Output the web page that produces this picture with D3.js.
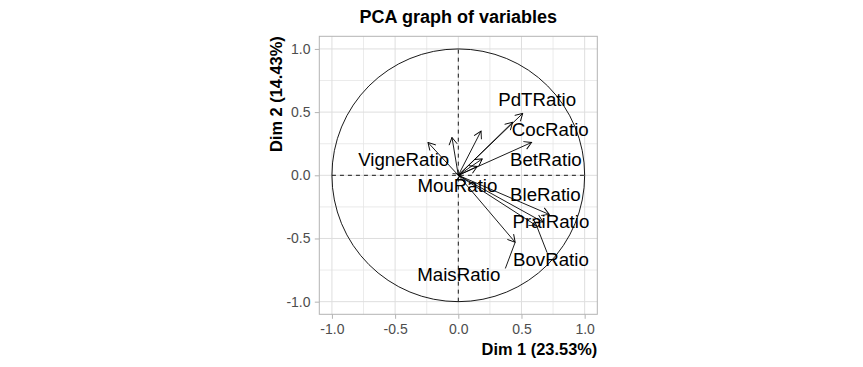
<!DOCTYPE html>
<html>
<head>
<meta charset="utf-8">
<script src="https://cdn.jsdelivr.net/npm/d3@7"></script>
<style>
  body { margin: 0; background: #fff; }
  text { font-family: "Liberation Sans", Arial, sans-serif; }
</style>
</head>
<body>
<svg id="chart"></svg>
<script>
// variable coordinates on Dim 1 / Dim 2
const varNames = ['PdTRatio', 'CocRatio', 'BetRatio', 'VigneRatio', 'MouRatio',
  'BleRatio', 'PraiRatio', 'BovRatio', 'MaisRatio'];
const dim1 = [0.51, 0.43, 0.58, -0.24, 0.02, 0.72, 0.67, 0.62, 0.45];
const dim2 = [0.49, 0.42, 0.26, 0.26, 0.01, -0.31, -0.37, -0.40, -0.53];

// repelled label centres (ggrepel output)
const labelDim1 = [0.624, 0.728, 0.693, -0.432, -0.007, 0.689, 0.733, 0.733, 0.004];
const labelDim2 = [0.603, 0.366, 0.128, 0.128, -0.083, -0.154, -0.368, -0.669, -0.788];
const labelLeader = [null, null, null, null, null, null, null, [0.45, 0], [1.06, 0.05]];

// arrows whose labels were dropped by the repel step
const unlabeledDim1 = [0.18, 0.19, 0.15, -0.05];
const unlabeledDim2 = [0.35, 0.13, 0.07, 0.30];

const majorTicks = [-1, -0.5, 0, 0.5, 1];
const minorTicks = [-0.75, -0.25, 0.25, 0.75];
const tickLabels = ['-1.0', '-0.5', '0.0', '0.5', '1.0'];
const title = 'PCA graph of variables';
const xTitle = 'Dim 1 (23.53%)';
const yTitle = 'Dim 2 (14.43%)';

const W = 863, H = 367;
const margin = {left: 319.3, top: 36.3, size: 278};

const svg = d3.select('#chart')
  .attr('width', W)
  .attr('height', H);

const x = d3.scaleLinear().domain([-1.1, 1.1]).range([margin.left, margin.left + margin.size]);
const y = d3.scaleLinear().domain([-1.1, 1.1]).range([margin.top + margin.size, margin.top]);

// panel background + grid
svg.append('rect')
  .attr('x', x(-1.1)).attr('y', y(1.1))
  .attr('width', margin.size).attr('height', margin.size)
  .attr('fill', '#fff');

const grid = svg.append('g');
grid.selectAll('.vminor').data(minorTicks).join('line')
  .attr('x1', d => x(d)).attr('x2', d => x(d))
  .attr('y1', y(-1.1)).attr('y2', y(1.1))
  .attr('stroke', '#e4e4e4').attr('stroke-width', 0.8);
grid.selectAll('.hminor').data(minorTicks).join('line')
  .attr('y1', d => y(d)).attr('y2', d => y(d))
  .attr('x1', x(-1.1)).attr('x2', x(1.1))
  .attr('stroke', '#e4e4e4').attr('stroke-width', 0.8);
grid.selectAll('.vmajor').data(majorTicks).join('line')
  .attr('x1', d => x(d)).attr('x2', d => x(d))
  .attr('y1', y(-1.1)).attr('y2', y(1.1))
  .attr('stroke', '#dedede').attr('stroke-width', 1);
grid.selectAll('.hmajor').data(majorTicks).join('line')
  .attr('y1', d => y(d)).attr('y2', d => y(d))
  .attr('x1', x(-1.1)).attr('x2', x(1.1))
  .attr('stroke', '#dedede').attr('stroke-width', 1);

// axes
const axisX = d3.axisBottom(x).tickValues(majorTicks)
  .tickFormat((d, i) => tickLabels[i]).tickSize(4.5).tickPadding(5.4);
const axisY = d3.axisLeft(y).tickValues(majorTicks)
  .tickFormat((d, i) => tickLabels[i]).tickSize(4.5).tickPadding(4.3);

const gx = svg.append('g')
  .attr('transform', `translate(0,${y(-1.1)})`)
  .call(axisX);
const gy = svg.append('g')
  .attr('transform', `translate(${x(-1.1)},0)`)
  .call(axisY);
[gx, gy].forEach(g => {
  g.select('.domain').remove();
  g.selectAll('line').attr('stroke', '#b3b3b3');
  g.selectAll('text').attr('fill', '#4d4d4d').style('font-size', '14px')
    .style('font-family', '"Liberation Sans", Arial, sans-serif');
});

// panel border
svg.append('rect')
  .attr('x', x(-1.1)).attr('y', y(1.1))
  .attr('width', margin.size).attr('height', margin.size)
  .attr('fill', 'none').attr('stroke', '#b3b3b3').attr('stroke-width', 1);

// unit circle + dashed axes
svg.append('circle')
  .attr('cx', x(0)).attr('cy', y(0))
  .attr('r', x(1) - x(0))
  .attr('fill', 'none').attr('stroke', '#000').attr('stroke-width', 0.9);
svg.append('line')
  .attr('x1', x(-1)).attr('x2', x(1)).attr('y1', y(0)).attr('y2', y(0))
  .attr('stroke', '#000').attr('stroke-width', 0.9).attr('stroke-dasharray', '4,4');
svg.append('line')
  .attr('x1', x(0)).attr('x2', x(0)).attr('y1', y(-1)).attr('y2', y(1))
  .attr('stroke', '#000').attr('stroke-width', 0.9).attr('stroke-dasharray', '4,4');

// arrow head
svg.append('defs').append('marker')
  .attr('id', 'head')
  .attr('viewBox', '-9 -5 10 10')
  .attr('markerWidth', 10).attr('markerHeight', 10)
  .attr('refX', 0).attr('refY', 0)
  .attr('markerUnits', 'userSpaceOnUse')
  .attr('orient', 'auto')
  .append('path')
  .attr('d', 'M-7.2,-4.1L0,0L-7.2,4.1')
  .attr('fill', 'none').attr('stroke', '#000').attr('stroke-width', 0.9);

const arrows = varNames.map((n, i) => ({x: dim1[i], y: dim2[i]}))
  .concat(unlabeledDim1.map((v, i) => ({x: v, y: unlabeledDim2[i]})));

svg.append('g').selectAll('line').data(arrows).join('line')
  .attr('x1', x(0)).attr('y1', y(0))
  .attr('x2', d => x(d.x)).attr('y2', d => y(d.y))
  .attr('stroke', '#000').attr('stroke-width', 0.9)
  .attr('marker-end', 'url(#head)');

// labels
const fs = 18.7;
const labels = svg.append('g').selectAll('text').data(varNames).join('text')
  .attr('x', (d, i) => x(labelDim1[i]))
  .attr('y', (d, i) => y(labelDim2[i]))
  .attr('dy', '0.35em')
  .attr('text-anchor', 'middle')
  .style('font-size', fs + 'px')
  .attr('fill', '#000')
  .text(d => d);

// leader segments for labels pushed away from their point
labels.each(function(d, i) {
  const lead = labelLeader[i];
  if (!lead) return;
  const w = this.getComputedTextLength();
  const cx = x(labelDim1[i]), cy = y(labelDim2[i]);
  const bx = cx - w / 2 + lead[0] * w;
  const top = cy - fs * 0.38;
  const by = top + lead[1] * fs * 0.75;
  svg.append('line')
    .attr('x1', x(dim1[i])).attr('y1', y(dim2[i]))
    .attr('x2', bx).attr('y2', by)
    .attr('stroke', '#000').attr('stroke-width', 0.9);
});

// titles
svg.append('text')
  .attr('x', (x(-1.1) + x(1.1)) / 2).attr('y', 23.3)
  .attr('text-anchor', 'middle')
  .style('font-size', '18px').style('font-weight', 'bold')
  .text(title);

svg.append('text')
  .attr('x', x(1.1)).attr('y', 355)
  .attr('text-anchor', 'end')
  .style('font-size', '16.4px').style('font-weight', 'bold')
  .text(xTitle);

svg.append('text')
  .attr('transform', `translate(281.5,${y(1.1)}) rotate(-90)`)
  .attr('text-anchor', 'end')
  .style('font-size', '16.4px').style('font-weight', 'bold')
  .text(yTitle);
</script>
</body>
</html>
